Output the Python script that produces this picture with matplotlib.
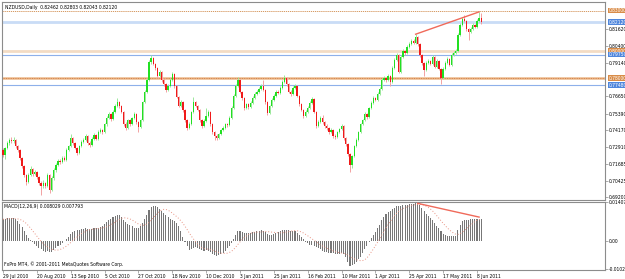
import matplotlib
matplotlib.use('Agg')
import matplotlib.pyplot as plt
import matplotlib.transforms as mtransforms
import pandas as pd

# NZDUSD daily bars, prices in pips (x 0.0001), open = previous close
first_open = 7270
closes = [7235, 7283, 7320, 7343, 7335, 7343, 7298, 7270, 7211, 7152,
          7085, 7033, 7085, 7130, 7093, 7107, 7070, 7026, 7004, 7026,
          7004, 7085, 6974, 7063, 7122, 7159, 7188, 7181, 7211, 7196,
          7270, 7298, 7358, 7320, 7284, 7247, 7298, 7328, 7343, 7372,
          7320, 7306, 7350, 7380, 7350, 7402, 7417, 7402, 7461, 7506,
          7535, 7498, 7550, 7594, 7624, 7594, 7550, 7461, 7432, 7491,
          7461, 7506, 7535, 7476, 7439, 7491, 7624, 7698, 7787, 7920,
          7950, 7906, 7876, 7817, 7847, 7787, 7757, 7713, 7743, 7787,
          7832, 7743, 7661, 7595, 7624, 7565, 7491, 7432, 7461, 7550,
          7624, 7595, 7565, 7491, 7447, 7484, 7521, 7550, 7461, 7402,
          7372, 7358, 7387, 7417, 7432, 7461, 7454, 7506, 7580, 7669,
          7743, 7787, 7698, 7654, 7580, 7609, 7587, 7617, 7654, 7683,
          7698, 7720, 7743, 7713, 7624, 7543, 7595, 7639, 7669, 7698,
          7691, 7728, 7772, 7802, 7757, 7698, 7683, 7728, 7743, 7669,
          7609, 7565, 7521, 7550, 7580, 7617, 7646, 7550, 7447, 7476,
          7506, 7476, 7447, 7432, 7402, 7417, 7372, 7365, 7402, 7424,
          7447, 7358, 7313, 7240, 7159, 7225, 7299, 7343, 7402, 7461,
          7491, 7535, 7513, 7580, 7617, 7654, 7639, 7683, 7720, 7787,
          7802, 7787, 7817, 7772, 7876, 7935, 7972, 7846, 7957, 8002,
          7987, 8031, 8053, 8075, 8061, 8105, 8053, 7972, 7913, 7861,
          7913, 7928, 7906, 7957, 7884, 7928, 7869, 7802, 7869, 7913,
          7943, 7898, 7972, 7987, 8002, 8120, 8194, 8238, 8223, 8164,
          8142, 8164, 8194, 8179, 8223, 8246, 8212]
highs = [7285, 7295, 7335, 7360, 7362, 7365, 7350, 7310, 7280, 7220,
         7160, 7095, 7098, 7150, 7140, 7125, 7115, 7080, 7040, 7045,
         7035, 7100, 7092, 7075, 7135, 7170, 7200, 7205, 7225, 7222,
         7285, 7310, 7385, 7365, 7330, 7292, 7305, 7340, 7360, 7385,
         7380, 7335, 7362, 7392, 7390, 7415, 7430, 7428, 7472, 7518,
         7550, 7545, 7562, 7608, 7650, 7632, 7605, 7560, 7475, 7502,
         7500, 7515, 7548, 7542, 7485, 7500, 7635, 7710, 7800, 7935,
         7972, 7960, 7915, 7885, 7860, 7855, 7800, 7765, 7755, 7798,
         7845, 7840, 7750, 7670, 7640, 7632, 7575, 7500, 7475, 7560,
         7660, 7635, 7605, 7572, 7500, 7495, 7580, 7562, 7558, 7470,
         7410, 7385, 7398, 7428, 7445, 7472, 7470, 7518, 7592, 7680,
         7755, 7810, 7795, 7708, 7662, 7620, 7618, 7628, 7668, 7695,
         7710, 7732, 7755, 7790, 7720, 7632, 7605, 7650, 7680, 7710,
         7712, 7740, 7785, 7825, 7810, 7765, 7710, 7740, 7755, 7750,
         7675, 7618, 7572, 7562, 7592, 7630, 7660, 7652, 7558, 7490,
         7518, 7525, 7485, 7458, 7440, 7430, 7425, 7385, 7412, 7435,
         7465, 7452, 7365, 7320, 7248, 7235, 7310, 7355, 7412, 7472,
         7502, 7548, 7545, 7590, 7628, 7665, 7662, 7695, 7732, 7798,
         7815, 7812, 7830, 7825, 7888, 7948, 7985, 7980, 7968, 8015,
         8012, 8042, 8065, 8088, 8090, 8127, 8112, 8060, 7980, 7920,
         7925, 7942, 7935, 7968, 7965, 7940, 7935, 7875, 7880, 7925,
         7955, 7950, 7985, 8000, 8015, 8132, 8205, 8250, 8267, 8230,
         8172, 8178, 8205, 8202, 8235, 8288, 8280]
lows = [7215, 7200, 7275, 7310, 7318, 7322, 7285, 7255, 7198, 7140,
        7070, 7010, 7025, 7075, 7080, 7082, 7055, 7010, 6937, 6990,
        6985, 6998, 6955, 6965, 7050, 7110, 7150, 7168, 7170, 7185,
        7190, 7260, 7290, 7310, 7275, 7235, 7240, 7290, 7318, 7335,
        7310, 7290, 7300, 7340, 7340, 7345, 7392, 7390, 7395, 7450,
        7495, 7485, 7490, 7540, 7585, 7580, 7540, 7450, 7418, 7425,
        7450, 7455, 7498, 7465, 7405, 7430, 7485, 7615, 7690, 7780,
        7905, 7895, 7862, 7805, 7810, 7775, 7745, 7700, 7705, 7735,
        7780, 7730, 7650, 7585, 7588, 7552, 7480, 7417, 7425, 7455,
        7545, 7585, 7555, 7480, 7435, 7440, 7478, 7512, 7450, 7390,
        7343, 7345, 7350, 7380, 7408, 7425, 7440, 7448, 7500, 7572,
        7660, 7735, 7688, 7640, 7568, 7572, 7575, 7580, 7610, 7645,
        7675, 7690, 7712, 7705, 7612, 7530, 7538, 7588, 7630, 7660,
        7680, 7685, 7720, 7765, 7745, 7688, 7672, 7678, 7720, 7658,
        7598, 7555, 7508, 7512, 7542, 7572, 7610, 7540, 7435, 7440,
        7468, 7465, 7435, 7420, 7390, 7395, 7360, 7350, 7358, 7395,
        7418, 7345, 7300, 7225, 7107, 7140, 7218, 7290, 7335, 7395,
        7452, 7485, 7500, 7508, 7572, 7610, 7628, 7632, 7675, 7712,
        7778, 7775, 7780, 7740, 7765, 7868, 7928, 7835, 7840, 7950,
        7975, 7980, 8022, 8045, 8050, 8052, 8040, 7960, 7900, 7815,
        7852, 7905, 7895, 7898, 7872, 7878, 7858, 7758, 7795, 7860,
        7905, 7888, 7890, 7965, 7980, 7995, 8112, 8185, 8212, 8152,
        8085, 8135, 8158, 8168, 8170, 8215, 8204]

# MACD(12,26,9) main line, x 0.0001
macd = [78, 80, 81, 82, 82, 81, 78, 72, 62, 50,
        36, 22, 10, 2, -5, -12, -18, -25, -32, -36,
        -40, -38, -42, -40, -33, -26, -20, -14, -8, -2,
        6, 14, 24, 30, 35, 38, 40, 42, 43, 45,
        44, 43, 44, 46, 45, 48, 50, 52, 60, 68,
        75, 80, 86, 90, 94, 92, 86, 77, 68, 62,
        57, 53, 48, 46, 48, 55, 65, 78, 95, 112,
        122, 127, 126, 122, 116, 108, 100, 92, 86, 80,
        76, 70, 66, 52, 35, 15, -5, -20, -33, -30,
        -26, -24, -26, -30, -34, -36, -35, -36, -42, -48,
        -54, -55, -53, -50, -44, -36, -28, -20, -8, 6,
        22, 34, 35, 32, 28, 27, 28, 29, 31, 33,
        35, 37, 38, 37, 32, 25, 22, 22, 24, 28,
        32, 35, 38, 40, 40, 38, 36, 35, 35, 28,
        20, 14, 6, -4, -10, -14, -14, -18, -24, -28,
        -30, -36, -40, -42, -44, -45, -46, -48, -48, -47,
        -46, -50, -60, -78, -93, -90, -84, -76, -68, -58,
        -46, -32, -18, -6, 8, 20, 32, 45, 58, 75,
        88, 98, 105, 108, 114, 120, 126, 125, 128, 130,
        130, 131, 132, 134, 135, 137, 137, 130, 120, 108,
        98, 90, 82, 74, 64, 55, 45, 35, 26, 20,
        17, 16, 16, 17, 18, 40, 58, 70, 75, 77,
        77, 78, 78, 79, 79, 80, 80.29]

date_labels = ['29 Jul 2010', '20 Aug 2010', '13 Sep 2010', '5 Oct 2010',
               '27 Oct 2010', '18 Nov 2010', '10 Dec 2010', '3 Jan 2011',
               '25 Jan 2011', '16 Feb 2011', '10 Mar 2011', '1 Apr 2011',
               '25 Apr 2011', '17 May 2011', '8 Jun 2011']
price_ticks = [0.81620, 0.80400, 0.79140, 0.76650, 0.75390,
               0.74170, 0.72910, 0.71685, 0.70425, 0.69200]
macd_ticks = [-0.01025, 0.0, 0.01407]
macd_tick_labels = ['-0.01025', '0.00', '0.01407']

# horizontal levels and how each one is drawn
levels = [0.83000, 0.82120, 0.80000, 0.79750, 0.78000, 0.77480]
level_kinds = ['orange', 'bid', 'beige', 'blue', 'orange2', 'blue']

price_trend_idx = [195, 225]
price_trend_val = [0.8125, 0.8290]
macd_trend_idx = [196, 225]
macd_trend_val = [0.0136, 0.0086]

W, H = 625, 279
fig = plt.figure(figsize=(W / 100, H / 100), dpi=100)
ax = fig.add_axes([2 / W, 1 - 200 / H, 603 / W, 198 / H])
ax2 = fig.add_axes([2 / W, 1 - 270 / H, 603 / W, 68 / H])

FS = 3.25
frame = '#8c8c8c'

n = len(closes)
idx = list(range(n))
px = 1e-4
c = [v * px for v in closes]
o = [first_open * px] + c[:-1]
h = [v * px for v in highs]
l = [v * px for v in lows]

up = [ci >= oi for ci, oi in zip(c, o)]
wick_col = ['#9be89b' if u else '#f2a2a2' for u in up]
body_col = ['#22e022' if u else '#f01a1a' for u in up]
bottoms = [min(oi, ci) for oi, ci in zip(o, c)]
heights = [max(abs(ci - oi), 0.0002) for oi, ci in zip(o, c)]

# horizontal lines
for lev, kind in zip(levels, level_kinds):
    if kind == 'orange':
        ax.axhline(lev, color='#d08a4a', lw=0.6, ls=(0, (1.5, 1)), zorder=1)
    elif kind == 'bid':
        ax.axhline(lev, color='#c9dcf6', lw=2.0, zorder=1)
    elif kind == 'beige':
        ax.axhline(lev, color='#f3dcc4', lw=2.0, zorder=1)
    elif kind == 'orange2':
        ax.axhline(lev, color='#f0c49c', lw=2.0, zorder=1)
        ax.axhline(lev, color='#c86a2a', lw=0.5, ls=(0, (1.5, 1)), zorder=1)
    else:
        ax.axhline(lev, color='#8eb0ea', lw=0.8, zorder=1)

ax.vlines(idx, l, h, colors=wick_col, lw=0.7, zorder=2)
ax.bar(idx, heights, bottom=bottoms, width=0.62, color=body_col, lw=0, zorder=3)
ax.plot(price_trend_idx, price_trend_val, color='#f06a5a', lw=1.0, zorder=4)

xlim = (-0.47, 284.5)
ax.set_xlim(*xlim)
ax.set_ylim(0.6900, 0.8363)
ax.set_xticks([])
ax.yaxis.tick_right()
ax.set_yticks(price_ticks)
ax.set_yticklabels(['%.5f' % t for t in price_ticks])
ax.tick_params(axis='y', length=2, width=0.5, color=frame, labelsize=FS, pad=1)

# coloured price boxes on the right axis
box_cols = {'orange': '#d98c48', 'bid': '#4f86dc', 'beige': '#d98c48',
            'blue': '#4f86dc', 'orange2': '#d98c48'}
trans = mtransforms.blended_transform_factory(ax.transAxes, ax.transData)
for lev, kind in zip(levels, level_kinds):
    ax.text(1.006, lev, '%.5f' % lev, transform=trans, fontsize=FS,
            color='white', va='center', ha='left', clip_on=False,
            bbox=dict(boxstyle='square,pad=0.1', fc=box_cols[kind], ec='none'))

ax.text(0.005, 0.985, 'NZDUSD,Daily  0.82462 0.82803 0.82043 0.82120',
        transform=ax.transAxes, fontsize=FS, va='top', ha='left')

# MACD window
macd_v = [v * px for v in macd]
signal = pd.Series(macd_v).rolling(9, min_periods=1).mean()
ax2.bar(idx, macd_v, width=0.5, color='#777777', lw=0, zorder=2)
ax2.plot(idx, signal, color='#e89484', lw=0.7, ls=(0, (1, 2)), zorder=3)
ax2.plot(macd_trend_idx, macd_trend_val, color='#f06a5a', lw=1.0, zorder=4)
ax2.set_xlim(*xlim)
ax2.set_ylim(-0.0107, 0.0141)
ax2.yaxis.tick_right()
ax2.set_yticks(macd_ticks)
ax2.set_yticklabels(macd_tick_labels)
ax2.tick_params(axis='y', length=2, width=0.5, color=frame, labelsize=FS, pad=1)
ax2.set_xticks(list(range(0, 16 * len(date_labels), 16)))
ax2.set_xticklabels(date_labels)
for t in ax2.get_xticklabels():
    t.set_ha('left')
ax2.tick_params(axis='x', length=2, width=0.5, color=frame, labelsize=FS, pad=1)
ax2.text(0.004, 0.94, 'MACD(12,26,9) 0.008029 0.007793', transform=ax2.transAxes,
         fontsize=FS, va='center', ha='left')
ax2.text(0.004, 0.09, 'FxPro MT4, \u00a9 2001-2011 MetaQuotes Software Corp.',
         transform=ax2.transAxes, fontsize=FS, va='center', ha='left')

for a in (ax, ax2):
    for s in a.spines.values():
        s.set_color(frame)
        s.set_linewidth(0.8)

fig.savefig('out.png', dpi=100)
